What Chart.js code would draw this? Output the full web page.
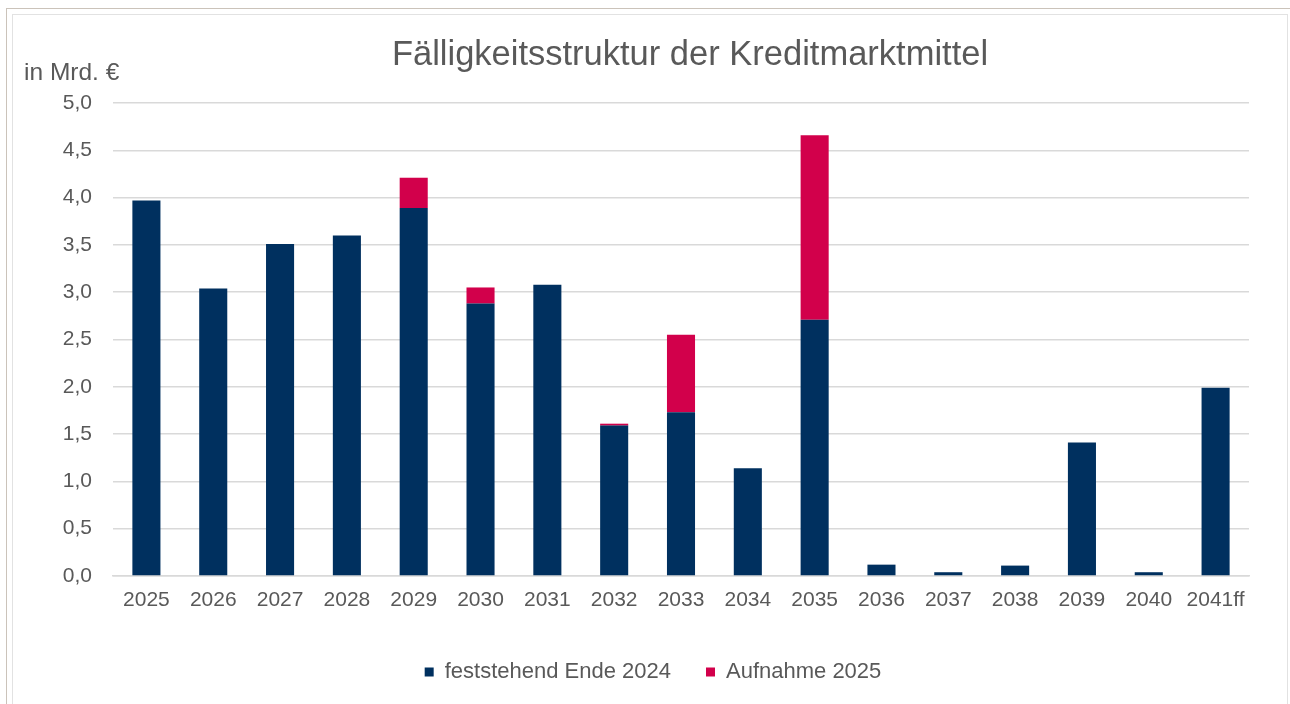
<!DOCTYPE html>
<html>
<head>
<meta charset="utf-8">
<script src="https://cdn.jsdelivr.net/npm/chart.js@4"></script>
<style>
  body { margin: 0; background: #fff; overflow: hidden; }
  .frame-outer { position: absolute; left: 6px; top: 8px; width: 1300px; height: 720px; border: 1px solid #cbc3ba; }
  .frame-inner { position: absolute; left: 12px; top: 14px; width: 1274px; height: 720px; border: 1px solid #e2e2e2; }
  #wrap { position: absolute; left: 0; top: 0; width: 1290px; height: 704px; }
</style>
</head>
<body>
<div class="frame-outer"></div>
<div class="frame-inner"></div>
<div id="wrap"><canvas id="chart"></canvas></div>
<script>
const years = ['2025', '2026', '2027', '2028', '2029', '2030', '2031', '2032', '2033', '2034', '2035', '2036', '2037', '2038', '2039', '2040', '2041ff'];
const feststehend = [3.97, 3.04, 3.51, 3.60, 3.89, 2.88, 3.08, 1.59, 1.73, 1.14, 2.71, 0.12, 0.04, 0.11, 1.41, 0.04, 1.99];
const aufnahme = [0, 0, 0, 0, 0.32, 0.17, 0, 0.02, 0.82, 0, 1.95, 0, 0, 0, 0, 0, 0];
const chartTitle = 'Fälligkeitsstruktur der Kreditmarktmittel';
const unitText = 'in Mrd. €';

const textGray = '#595959';
const font = 'Liberation Sans, Arial, sans-serif';

// title and unit label are drawn by hand so they sit where the original has them
const headerText = {
    id: 'headerText',
    afterDraw(chart) {
        const ctx = chart.ctx;
        ctx.save();
        ctx.fillStyle = textGray;
        ctx.textBaseline = 'alphabetic';
        ctx.font = '34.5px ' + font;
        ctx.textAlign = 'center';
        ctx.fillText(chartTitle, 690, 65);
        ctx.font = '24.5px ' + font;
        ctx.textAlign = 'left';
        ctx.fillText(unitText, 24, 80);
        ctx.restore();
    }
};

const chart = document.querySelector('#chart').getContext('2d');
new Chart(chart, {
    type: 'bar',
    data: {
        labels: years,
        datasets: [
            {
                label: 'feststehend Ende 2024',
                data: feststehend,
                backgroundColor: '#00305f'
            },
            {
                label: 'Aufnahme 2025',
                data: aufnahme,
                backgroundColor: '#d2004b'
            }
        ]
    },
    options: {
        responsive: true,
        maintainAspectRatio: false,
        animation: false,
        datasets: {
            bar: { categoryPercentage: 1, barPercentage: 0.42 }
        },
        layout: { padding: { left: 57, right: 41, top: 103, bottom: 11 } },
        plugins: {
            title: { display: false },
            legend: {
                position: 'bottom',
                labels: {
                    color: textGray,
                    font: { family: font, size: 22 },
                    boxWidth: 9,
                    boxHeight: 9,
                    padding: 35
                }
            },
            tooltip: { enabled: false }
        },
        scales: {
            x: {
                stacked: true,
                grid: { display: false, drawTicks: false },
                border: { display: true, color: '#d9d9d9', width: 1.5 },
                ticks: { color: textGray, font: { family: font, size: 21 }, padding: 12, maxRotation: 0, autoSkip: false },
                afterFit(scale) { scale.height = 50; }
            },
            y: {
                stacked: true,
                min: 0,
                max: 5,
                grid: { color: '#d9d9d9', lineWidth: 1.5, drawTicks: false },
                border: { display: false },
                ticks: {
                    stepSize: 0.5,
                    color: textGray,
                    font: { family: font, size: 21 },
                    padding: 21,
                    callback: v => v.toFixed(1).replace('.', ',')
                },
                afterFit(scale) { scale.width = 56; }
            }
        }
    },
    plugins: [headerText]
});
</script>
</body>
</html>
